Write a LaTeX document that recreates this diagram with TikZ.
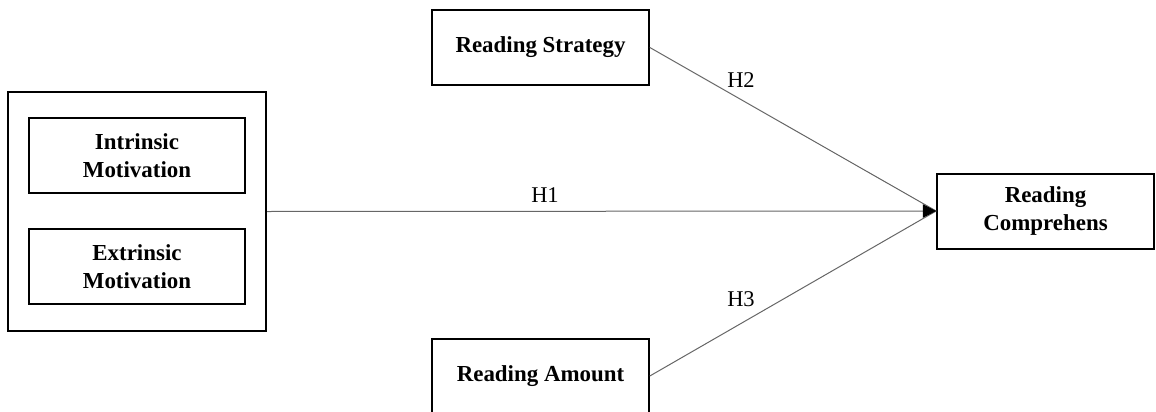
\documentclass[tikz,border=0pt]{standalone}
\usepackage{fontspec}
\setmainfont{Liberation Serif}
\usetikzlibrary{arrows.meta}
\begin{document}
\begin{tikzpicture}[x=0.6pt, y=-0.6pt,
    box/.style = {shape=rectangle, draw, line width=1.2pt, align=center,
      font=\fontsize{13.75}{16.5}\selectfont\bfseries,
      minimum width=130pt, minimum height=45pt},
    link/.style = {draw=black!60, line width=0.6pt},
    hyp/.style = {font=\fontsize{13.5}{16}\selectfont}]
    \useasboundingbox (0,0) rectangle (1156,412);
    \node[box, minimum width=155pt, minimum height=143.4pt] (outer) at (137,211.5) {};
    \node[box] (intr) at (137,155.5) {Intrinsic\\Motivation};
    \node[box] (extr) at (137,266.5) {Extrinsic\\Motivation};
    \node[box] (strat) at (540.5,47.5) {Reading Strategy};
    \node[box] (amount) at (540.5,376) {Reading Amount};
    \node[box] (comp) at (1045.5,211) {Reading\\Comprehens};
    \draw[link] (strat.east) -- (comp.west);
    \draw[link] (amount.east) -- (comp.west);
    \draw[link, -{Triangle[length=8pt,width=8pt,black]}] (outer.east) -- (comp.west);
    \node[hyp] (h1) at (545,195) {H1};
    \node[hyp] (h2) at (741,80) {H2};
    \node[hyp] (h3) at (741,299) {H3};
\end{tikzpicture}
\end{document}
